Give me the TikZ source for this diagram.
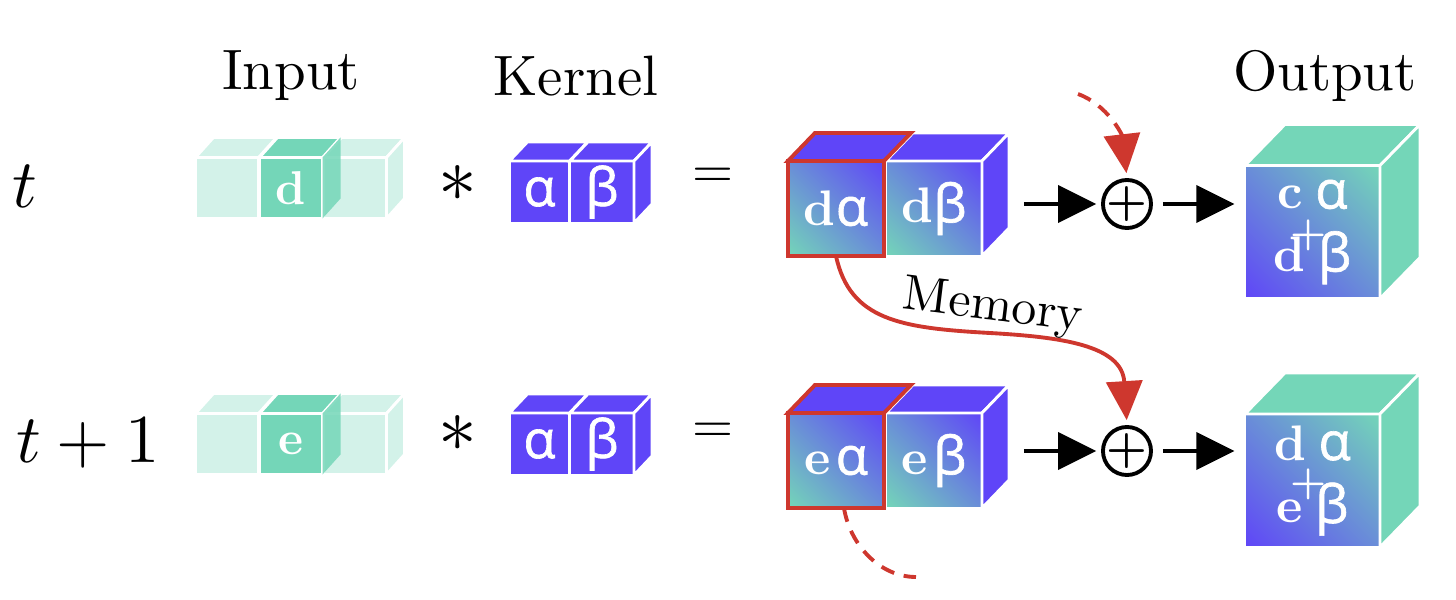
\documentclass[tikz,border=0pt]{standalone}
\usepackage{fontspec}
\usepackage{amsmath}
\usetikzlibrary{arrows.meta}
\newfontfamily\greekfont[RawFeature={embolden=1.2}]{Open Sans}
\definecolor{cubeteal}{RGB}{116, 214, 184}
\definecolor{cubepale}{RGB}{211, 242, 233}
\definecolor{cubeblue}{RGB}{95, 69, 248}
\definecolor{memred}{RGB}{206, 55, 46}
\pgfdeclareverticalshading{prodshade}{100bp}{color(0bp)=(cubeteal); color(14.6bp)=(cubeteal); color(85.4bp)=(cubeblue); color(100bp)=(cubeblue)}
\pgfdeclareverticalshading{outshade}{100bp}{color(0bp)=(cubeblue); color(14.6bp)=(cubeblue); color(85.4bp)=(cubeteal); color(100bp)=(cubeteal)}
\newcommand{\ga}{{\greekfont\fontsize{15}{16}\selectfont α}}
\newcommand{\gb}{{\greekfont\fontsize{15}{16}\selectfont β}}
\newcommand{\ltr}[2]{\scalebox{#1}{\bfseries #2}}
\newcommand{\plussign}{\raisebox{-3.25pt}[0pt][0pt]{\makebox[0pt]{\scalebox{1.3}{\bfseries +}}}}
\newcommand{\cubetop}[3]{\path[#1] (#2.north west) -- ([shift={#3}]#2.north west) -- ([shift={#3}]#2.north east) -- (#2.north east) -- cycle;}
\newcommand{\cubeside}[3]{\path[#1] (#2.north east) -- ([shift={#3}]#2.north east) -- ([shift={#3}]#2.south east) -- (#2.south east) -- cycle;}

\begin{document}
\begin{tikzpicture}[
  x=0.01cm, y=-0.01cm,
  head/.style={scale=1.62},
  sym/.style={scale=1.95},
  cell/.style={draw=white, line width=0.8pt, inner sep=0pt, outer sep=0pt, text=white},
  inbox/.style={cell, fill=cubepale, minimum width=0.63cm, minimum height=0.61cm},
  inact/.style={inbox, fill=cubeteal},
  kbox/.style={cell, fill=cubeblue, minimum height=0.62cm},
  prodbox/.style={cell, minimum width=0.96cm, minimum height=0.95cm, shade, shading=prodshade, shading angle=-45},
  memcell/.style={prodbox, draw=memred, line width=1.2pt},
  outbox/.style={cell, minimum width=1.35cm, minimum height=1.33cm, align=center, font=\fontsize{10}{17.9}\selectfont, shade, shading=outshade, shading angle=-45},
  face/.style={draw=white, line width=0.8pt, fill=#1},
  redface/.style={draw=memred, line width=1.1pt, fill=#1},
  sumop/.style={circle, draw, line width=1.1pt, inner sep=0pt, minimum size=0.48cm},
  flow/.style={line width=1.1pt, -{Triangle[length=3.8mm, width=3.7mm]}},
  memline/.style={draw=memred, line width=1.1pt},
  memarrow/.style={shorten >=1.4pt, -{Triangle[length=3.9mm, width=3.6mm]}},
  memdash/.style={dash pattern=on 4pt off 2.8pt}
]
  \useasboundingbox (0,0) rectangle (1456,600);

  % headers
  \node[head] (input) at (291,76) {Input};
  \node[head] (kernel) at (576,76) {Kernel};
  \node[head] (output) at (1325,76) {Output};

  % row labels
  \node[sym] (tA) at (25,186) {$t$};
  \node[sym] (tB) at (88,443) {$t+1$};

  \foreach \row/\yin/\ystar/\yker/\yeq/\yprod/\ysum/\yout/\lett/\prev/\gapw in {
    A/188/184/192/178/208.5/204/232/d/c/0pt,
    B/444/434/444/433/460.5/451/480.5/e/d/1.5pt} {
    % input
    \node[inbox] (in1\row) at (227,\yin) {};
    \node[inbox] (in3\row) at (355,\yin) {};
    \cubetop{face=cubepale}{in1\row}{(18,-20)}
    \cubetop{face=cubepale}{in3\row}{(18,-20)}
    \cubeside{face=cubepale}{in3\row}{(18,-20)}
    \node[inact] (in2\row) at (291,\yin) {\ltr{1.35}{\lett}};
    \cubetop{face=cubeteal}{in2\row}{(18,-20)}
    \cubeside{fill=cubeteal, fill opacity=0.85}{in2\row}{(18,-20)}
    \node[scale=2.2] (star\row) at (458,\ystar) {$*$};
    % kernel
    \node[kbox, minimum width=0.6cm] (alpha\row) at (539.5,\yker) {\ga};
    \node[kbox, minimum width=0.64cm] (beta\row) at (602,\yker) {\gb};
    \cubetop{face=cubeblue}{alpha\row}{(18,-19)}
    \cubetop{face=cubeblue}{beta\row}{(18,-19)}
    \cubeside{face=cubeblue}{beta\row}{(18,-19)}
    \node[scale=1.5] (eq\row) at (713,\yeq) {$=$};
    % product
    \node[prodbox] (dbeta\row) at (934,\yprod) {\ltr{1.42}{\lett}\kern\gapw\gb};
    \cubetop{face=cubeblue}{dbeta\row}{(27,-28)}
    \cubeside{face=cubeblue}{dbeta\row}{(27,-28)}
    \node[memcell] (dalpha\row) at (836,\yprod) {\ltr{1.42}{\lett}\kern\gapw\ga};
    \cubetop{redface=cubeblue}{dalpha\row}{(27,-28)}
    % sum and output
    \node[sumop] (sum\row) at (1127,\ysum) {\plussign};
    \node[outbox] (out\row) at (1312.5,\yout) {\ltr{1.42}{\prev}\kern3.5pt\ga\\\ltr{1.42}{\lett}\kern3.5pt\gb};
    \cubetop{face=cubeteal}{out\row}{(40,-41)}
    \cubeside{face=cubeteal}{out\row}{(40,-41)}
    \node[text=white, scale=1.15, xshift=-0.03cm, yshift=-0.03cm] (plus\row) at (out\row) {\bfseries +};
    \draw[flow, shorten <=11.9pt, shorten >=1.4pt] (dbeta\row.east |- sum\row) -- (sum\row);
    \draw[flow, shorten <=2.8pt, shorten >=3pt] (sum\row) -- (out\row.west |- sum\row);
  }

  % memory
  \coordinate (memin) at (1078,94);
  \coordinate (memmid) at (990,333);
  \coordinate (memout) at (916,577);
  \draw[memline, memdash, memarrow] (memin) .. controls (1108,105) and (1122,135) .. (sumA.north);
  \draw[memline, memarrow] (dalphaA.south) .. controls (850,320) and (900,328) .. (memmid)
    .. controls (1060,337) and (1122,345) .. (sumB.north);
  \draw[memline, memdash] ([xshift=0.08cm]dalphaB.south) .. controls (850,545) and (880,577) .. (memout);
  \node[scale=1.42, rotate=-7] (memlabel) at (993,308) {Memory};
\end{tikzpicture}
\end{document}
